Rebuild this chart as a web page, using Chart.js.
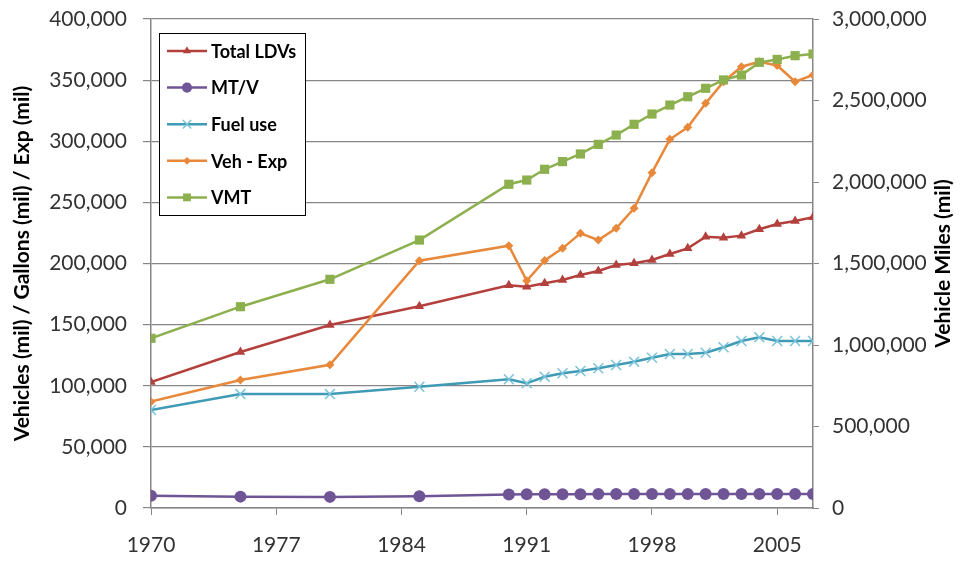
<!DOCTYPE html>
<html>
<head>
<meta charset="utf-8">
<script src="https://cdn.jsdelivr.net/npm/chart.js@4.4.0/dist/chart.umd.min.js"></script>
<style>
  html, body { margin: 0; background: #fff; }
</style>
</head>
<body>
<canvas id="chart" width="960" height="565"></canvas>
<script>
const years = [1970, 1975, 1980, 1985, 1990, 1991, 1992, 1993, 1994, 1995, 1996, 1997, 1998,
  1999, 2000, 2001, 2002, 2003, 2004, 2005, 2006, 2007];

const totalLDVs = [103000, 127600, 149700, 165000, 182200, 181000, 183800, 186500, 190600, 193900, 198800,
  200200, 202900, 207800, 212400, 221900, 221100, 222800, 228000, 232300, 234800, 237800];
const mtPerV = [10060, 9300, 9100, 9600, 11100, 11200, 11300, 11300, 11300, 11450, 11450, 11500,
  11500, 11500, 11450, 11450, 11500, 11500, 11500, 11400, 11400, 11400];
const fuelUse = [80200, 93200, 93200, 99200, 105300, 102000, 107400, 110200, 112100, 114300, 117000,
  119700, 122900, 126000, 126000, 127000, 131500, 136600, 139600, 136600, 136600, 136600];
const vehExp = [87000, 104700, 117200, 202300, 214600, 185900, 202500, 212400, 224700, 219200, 228800,
  245200, 274300, 301600, 311400, 331000, 348700, 361000, 365000, 362000, 348700, 354200];
const vmt = [1041000, 1235000, 1403000, 1644000, 1986000, 2012000, 2078000, 2125000, 2172000, 2231000,
  2288000, 2354000, 2417000, 2472000, 2523000, 2575000, 2626000, 2656000, 2734000, 2752000, 2775000, 2785000];

const leftTicks = [0, 50000, 100000, 150000, 200000, 250000, 300000, 350000, 400000];
const rightTicks = [0, 500000, 1000000, 1500000, 2000000, 2500000, 3000000];
const xTicks = [1970, 1977, 1984, 1991, 1998, 2005];

const pts = arr => years.map((y, i) => ({ x: y, y: arr[i] }));
const FONT = 'Lato, "Liberation Sans", sans-serif';
const AXIS = '#868686';
const TICK = '#333';

const series = [
  { label: 'Total LDVs', data: pts(totalLDVs), yAxisID: 'y', borderColor: '#B3403C', backgroundColor: '#B3403C',
    pointStyle: 'triangle', pointRadius: 5.5, order: 4 },
  { label: 'MT/V', data: pts(mtPerV), yAxisID: 'y', borderColor: '#6F5596', backgroundColor: '#6F5596',
    pointStyle: 'circle', pointRadius: 6, order: 3 },
  { label: 'Fuel use', data: pts(fuelUse), yAxisID: 'y', borderColor: '#3E9AB5', backgroundColor: '#7BC3DA',
    pointStyle: 'crossRot', pointRadius: 7, pointBorderColor: '#7BC3DA', pointBorderWidth: 1.5, order: 2 },
  { label: 'Veh - Exp', data: pts(vehExp), yAxisID: 'y', borderColor: '#E8883A', backgroundColor: '#E8883A',
    pointStyle: 'rectRot', pointRadius: 4.5, order: 1 },
  { label: 'VMT', data: pts(vmt), yAxisID: 'y1', borderColor: '#8DB04E', backgroundColor: '#8DB04E',
    pointStyle: 'rect', pointRadius: 6.5, order: 0 }
];
series.forEach(s => {
  s.borderWidth = 2.5;
  s.tension = 0;
  if (!s.pointBorderColor) { s.pointBorderColor = s.backgroundColor; s.pointBorderWidth = 0; }
});

const extras = {
  id: 'extras',
  afterDraw(chart) {
    const ctx = chart.ctx;
    const area = chart.chartArea;
    ctx.save();
    // right axis title, reading bottom to top
    ctx.translate(943, (area.top + area.bottom) / 2);
    ctx.rotate(-Math.PI / 2);
    ctx.fillStyle = '#000';
    ctx.font = 'bold 21px ' + FONT;
    ctx.textAlign = 'center';
    ctx.textBaseline = 'middle';
    ctx.fillText('Vehicle Miles (mil)', 0, 0);
    ctx.restore();

    // boxed legend inside the plot
    const bx = area.left + 8, by = area.top + 14, bw = 146, bh = 182;
    ctx.save();
    ctx.fillStyle = '#fff';
    ctx.fillRect(bx, by, bw, bh);
    ctx.strokeStyle = '#000';
    ctx.lineWidth = 1;
    ctx.strokeRect(bx + 0.5, by + 0.5, bw, bh);
    ctx.font = 'bold 18px ' + FONT;
    ctx.textBaseline = 'middle';
    ctx.textAlign = 'left';
    series.forEach((s, i) => {
      const cy = by + 18 + i * 36.6;
      ctx.strokeStyle = s.borderColor;
      ctx.lineWidth = 2.5;
      ctx.beginPath();
      ctx.moveTo(bx + 8, cy);
      ctx.lineTo(bx + 48, cy);
      ctx.stroke();
      ctx.fillStyle = s.backgroundColor;
      ctx.strokeStyle = s.pointBorderColor;
      ctx.lineWidth = s.pointBorderWidth || 0;
      Chart.helpers.drawPoint(ctx, { pointStyle: s.pointStyle, radius: s.pointRadius * 0.85,
        borderWidth: s.pointBorderWidth || 0, rotation: 0 }, bx + 28, cy);
      ctx.fillStyle = '#000';
      ctx.fillText(s.label, bx + 52, cy + 1);
    });
    ctx.restore();
  }
};

const fitVertical = width => sc => {
  sc.width = width;
  sc.paddingTop = 0;
  sc.paddingBottom = 0;
};

new Chart(document.getElementById('chart'), {
  type: 'line',
  data: { datasets: series },
  options: {
    responsive: false,
    animation: false,
    layout: { padding: { top: 19 } },
    plugins: { legend: { display: false }, tooltip: { enabled: false } },
    scales: {
      x: {
        type: 'linear',
        min: 1970,
        max: 2007,
        afterBuildTicks: sc => { sc.ticks = xTicks.map(v => ({ value: v })); },
        afterFit: sc => { sc.height = 57; sc.paddingLeft = 0; sc.paddingRight = 0; },
        grid: { drawOnChartArea: false, drawTicks: true, tickLength: 7, color: AXIS },
        border: { color: AXIS, width: 1.5 },
        ticks: { color: TICK, font: { family: FONT, size: 21 }, padding: 18, maxRotation: 0, callback: v => String(v) }
      },
      y: {
        position: 'left',
        min: 0,
        max: 400000,
        afterBuildTicks: sc => { sc.ticks = leftTicks.map(v => ({ value: v })); },
        afterFit: fitVertical(151),
        grid: { color: AXIS, lineWidth: 1.2, tickLength: 8 },
        border: { color: AXIS, width: 1.5 },
        ticks: { color: TICK, font: { family: FONT, size: 21 }, padding: 16,
          callback: v => v.toLocaleString('en-US') },
        title: { display: true, text: 'Vehicles (mil) / Gallons (mil) / Exp (mil)', color: '#000',
          font: { family: FONT, size: 21, weight: 'bold' }, padding: { top: 10, bottom: 0 } }
      },
      y1: {
        position: 'right',
        min: 0,
        max: 3000000,
        afterBuildTicks: sc => { sc.ticks = rightTicks.map(v => ({ value: v })); },
        afterFit: fitVertical(147),
        grid: { drawOnChartArea: false, color: AXIS, tickLength: 6 },
        border: { color: AXIS, width: 1.5 },
        ticks: { color: TICK, font: { family: FONT, size: 21 }, padding: 13,
          callback: v => v.toLocaleString('en-US') }
      }
    }
  },
  plugins: [extras]
});
</script>
</body>
</html>
